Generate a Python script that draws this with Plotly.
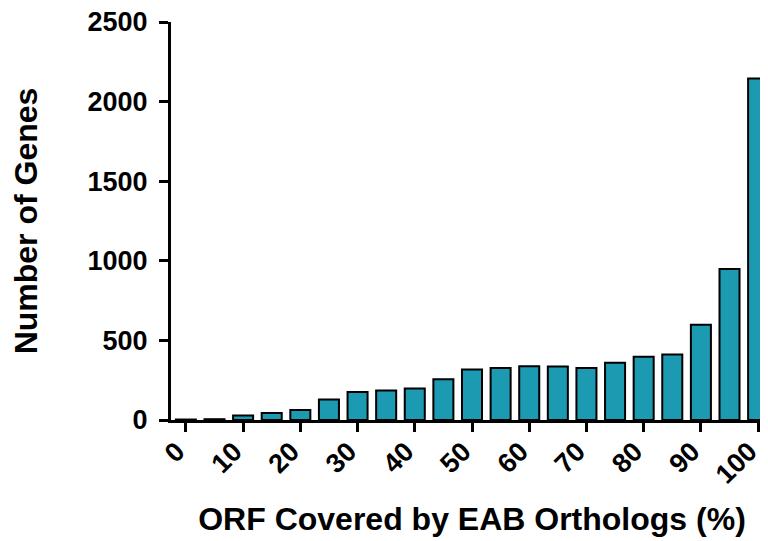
import plotly.graph_objects as go

# ORF coverage bins (%) and gene counts
coverage = [0, 5, 10, 15, 20, 25, 30, 35, 40, 45, 50, 55, 60, 65, 70, 75, 80, 85, 90, 95, 100]
genes = [3, 5, 28, 44, 63, 128, 176, 185, 198, 256, 317, 327, 338, 336, 327, 359, 397, 412, 598, 948, 2145]

x_ticks = [0, 10, 20, 30, 40, 50, 60, 70, 80, 90, 100]
y_ticks = [0, 500, 1000, 1500, 2000, 2500]

font_family = "Liberation Sans, Arial, sans-serif"

fig = go.Figure(go.Bar(
    x=coverage,
    y=genes,
    width=3.5,
    marker=dict(color="#1c9ab2", line=dict(color="black", width=2)),
))

fig.update_layout(
    width=768, height=541,
    margin=dict(l=163, r=3, t=14, b=129),
    plot_bgcolor="white",
    paper_bgcolor="white",
    showlegend=False,
    font=dict(family=font_family, color="black"),
)

fig.update_xaxes(
    range=[-2.6, 102.6],
    tickvals=x_ticks,
    ticktext=[str(v) for v in x_ticks],
    tickangle=-45,
    tickfont=dict(size=27, family=font_family, weight="bold"),
    ticklabelshift=-9, ticklabelstandoff=-7, ticklabeloverflow="allow",
    ticks="outside", ticklen=9, tickwidth=3, tickcolor="black",
    showline=True, linewidth=3, linecolor="black",
    showgrid=False, zeroline=False, automargin=False,
    title=dict(text="<b>ORF Covered by EAB Orthologs (%)</b>", font=dict(size=32), standoff=20),
)

fig.update_yaxes(
    range=[0, 2500],
    tickvals=y_ticks,
    tickfont=dict(size=27, family=font_family, weight="bold"),
    ticklabelstandoff=6, ticklabeloverflow="allow",
    ticks="outside", ticklen=9, tickwidth=3, tickcolor="black",
    showline=True, linewidth=3, linecolor="black",
    showgrid=False, zeroline=False, automargin=False,
    title=dict(text="<b>Number of Genes</b>", font=dict(size=32), standoff=54),
)

fig.write_html("out.html")
